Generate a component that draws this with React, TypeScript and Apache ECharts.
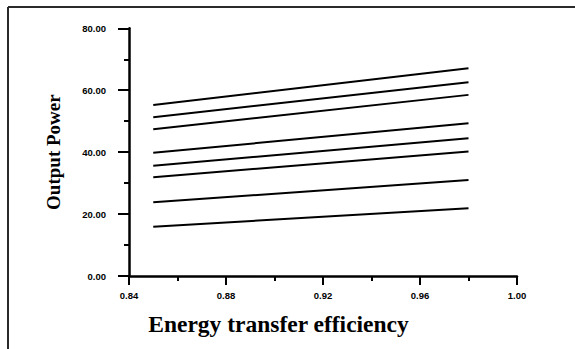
import React, { useEffect, useRef } from "react";
import * as echarts from "echarts";

const xValues = [0.85, 0.98];
const series1 = [55.2, 67.1];
const series2 = [51.3, 62.6];
const series3 = [47.4, 58.5];
const series4 = [39.8, 49.3];
const series5 = [35.6, 44.5];
const series6 = [31.9, 40.2];
const series7 = [23.8, 31.0];
const series8 = [15.9, 21.9];
const allSeries = [series1, series2, series3, series4, series5, series6, series7, series8];

const xTitle = "Energy transfer efficiency";
const yTitle = "Output Power";

export default function App() {
  const ref = useRef<HTMLDivElement>(null);
  useEffect(() => {
    if (!ref.current) return;
    const chart = echarts.init(ref.current, null, { renderer: "svg" });
    const tickLabel = {
      color: "#000",
      fontFamily: "Liberation Sans, Arial, sans-serif",
      fontWeight: "bold" as const,
      fontSize: 9.5,
    };
    chart.setOption({
      animation: false,
      backgroundColor: "#fff",
      grid: { left: 129, right: 58, top: 28.3, bottom: 73, containLabel: false },
      graphic: [
        { type: "line", shape: { x1: 8, y1: 7, x2: 575, y2: 7 }, style: { stroke: "#2a2a2a", lineWidth: 2 } },
        { type: "line", shape: { x1: 8, y1: 7, x2: 8, y2: 349 }, style: { stroke: "#2a2a2a", lineWidth: 2 } },
      ],
      xAxis: {
        type: "value",
        min: 0.84,
        max: 1.0,
        interval: 0.04,
        name: xTitle,
        nameLocation: "middle",
        nameGap: 36,
        nameTextStyle: {
          color: "#000",
          fontFamily: "Liberation Serif, Times New Roman, serif",
          fontWeight: "bold",
          fontSize: 23.5,
          verticalAlign: "top",
          padding: [0, 89, 0, 0],
        },
        axisLine: { show: true, onZero: false, lineStyle: { color: "#000", width: 2.5 } },
        axisTick: { show: true, length: 9, lineStyle: { color: "#000", width: 2 } },
        minorTick: { show: true, splitNumber: 2, length: 5, lineStyle: { color: "#000", width: 2 } },
        splitLine: { show: false },
        axisLabel: { ...tickLabel, margin: 14, formatter: (v: number) => v.toFixed(2) },
      },
      yAxis: {
        type: "value",
        min: 0,
        max: 80,
        interval: 20,
        name: yTitle,
        nameLocation: "middle",
        nameRotate: 90,
        nameGap: 66,
        nameTextStyle: {
          color: "#000",
          fontFamily: "Liberation Serif, Times New Roman, serif",
          fontWeight: "bold",
          fontSize: 19,
        },
        axisLine: { show: true, onZero: false, lineStyle: { color: "#000", width: 2.5 } },
        axisTick: { show: true, length: 11, lineStyle: { color: "#000", width: 2 } },
        minorTick: { show: true, splitNumber: 2, length: 5, lineStyle: { color: "#000", width: 2 } },
        splitLine: { show: false },
        axisLabel: { ...tickLabel, margin: 23, formatter: (v: number) => v.toFixed(2) },
      },
      series: allSeries.map((vals, i) => ({
        name: "S" + (i + 1),
        type: "line",
        symbol: "none",
        data: xValues.map((x, j) => [x, vals[j]]),
        lineStyle: { color: "#000", width: 2 },
      })),
    });
    return () => chart.dispose();
  }, []);
  return (
    <div
      ref={ref}
      style={{ position: "fixed", left: 0, top: 0, width: 575, height: 349, background: "#fff" }}
    />
  );
}
